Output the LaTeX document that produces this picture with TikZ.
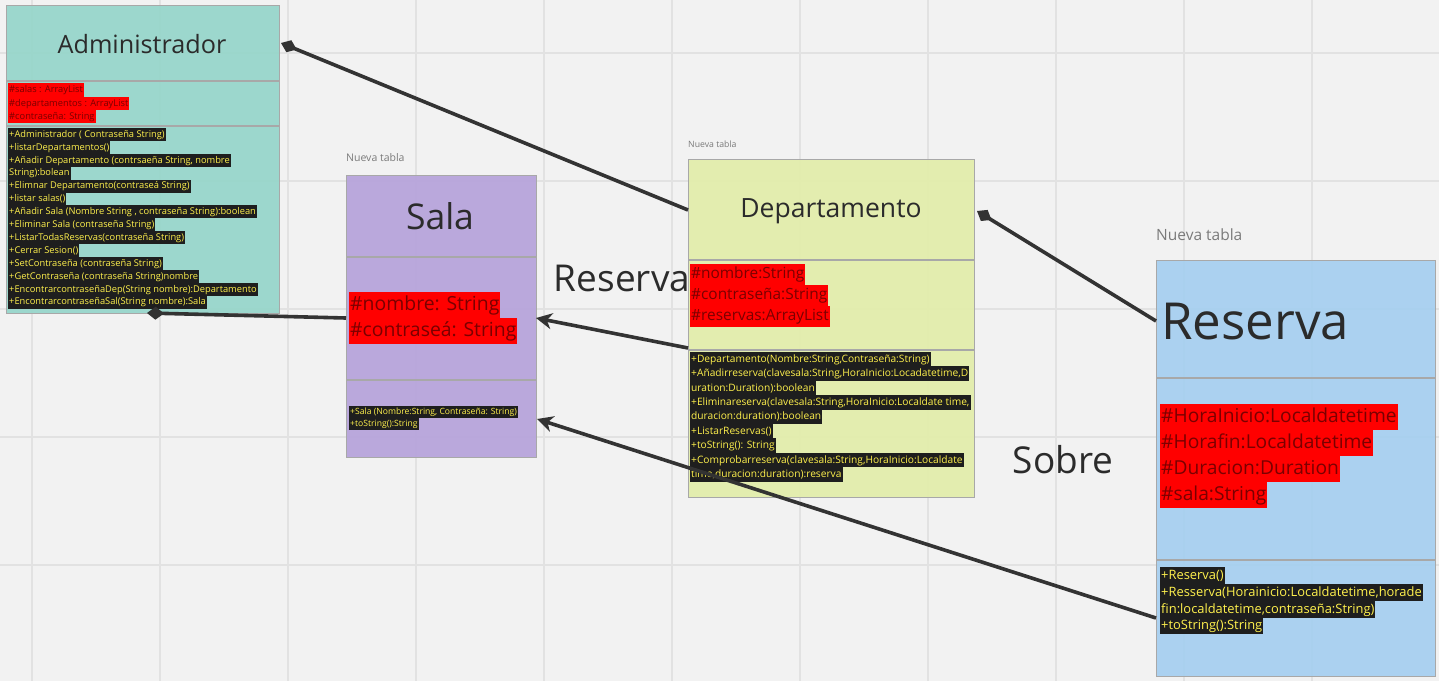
\documentclass[tikz,border=0pt]{standalone}
\usepackage{fontspec}
\setmainfont{Open Sans}
\usetikzlibrary{arrows.meta,calc}
\definecolor{bgcol}{HTML}{F2F2F2}
\definecolor{gridcol}{HTML}{E2E2E2}
\definecolor{admincol}{HTML}{95D5CA}
\definecolor{salacol}{HTML}{B6A2DB}
\definecolor{deptcol}{HTML}{E2EDAA}
\definecolor{rescol}{HTML}{A5CFF0}
\definecolor{bordcol}{HTML}{A8A8A8}
\definecolor{redband}{HTML}{FF0000}
\definecolor{redtext}{HTML}{7A0000}
\definecolor{blackband}{HTML}{1E1E1E}
\definecolor{yeltext}{HTML}{FFF14D}
\definecolor{conncol}{HTML}{333333}
\definecolor{titlecol}{HTML}{2B2B2B}
\definecolor{notecol}{HTML}{7A7A7A}
\newcommand\fsz[1]{\fontsize{#1}{#1}\selectfont}
\begin{document}
\begin{tikzpicture}[x=1pt,y=-1pt,
  box/.style={draw=bordcol,line width=1.2pt,fill opacity=0.92,anchor=north west,inner sep=0pt},
  div/.style={draw=bordcol,line width=1.2pt},
  title/.style={text=titlecol,inner sep=0pt},
  note/.style={text=notecol,inner sep=0pt,anchor=south west},
  attr/.style={fill=redband,text=redtext,inner xsep=1pt,inner ysep=0pt,anchor=west},
  meth/.style={fill=blackband,text=yeltext,inner xsep=1pt,inner ysep=0pt,anchor=west},
  conn/.style={draw=conncol,line width=3.6pt},
  dia/.style={-{Diamond[length=17pt,width=13pt,fill=conncol]}},
  arr/.style={-{Stealth[length=16pt,width=16pt,inset=5pt]}},
  lbl/.style={text=titlecol,inner sep=0pt}
]
\useasboundingbox (0,0) rectangle (1439,681);
\fill[bgcol] (0,0) rectangle (1439,681);
% grid
\foreach \gx in {32,160,...,1440} \draw[gridcol,line width=1.5pt] (\gx,0) -- (\gx,681);
\foreach \gy in {53,181,...,565} \draw[gridcol,line width=1.5pt] (0,\gy) -- (1439,\gy);

% ---------- Administrador ----------
\node[box,fill=admincol,minimum width=273pt,minimum height=308pt] (admin) at (6,5) {};
\draw[div] (6,81) -- (279,81);
\draw[div] (6,126) -- (279,126);
\node[title,font=\fsz{25.2}] (admint) at (142,44) {Administrador};
\begin{scope}[every node/.append style={font=\fsz{9.3}}]
\node[attr,text height=9.4pt,text depth=3.8pt] (aa1) at (8,90) {\#salas : ArrayList};
\node[attr,text height=9.4pt,text depth=3.8pt] (aa2) at (8,103.3) {\#departamentos : ArrayList};
\node[attr,text height=9.4pt,text depth=3.8pt] (aa3) at (8,116.5) {\#contraseña: String};
\tikzset{am/.style={meth,text height=9.2pt,text depth=3.7pt}}
\node[am] (am1) at (8,134.5) {+Administrador ( Contraseña String)};
\node[am] (am2) at (8,147.4) {+listarDepartamentos()};
\node[am] (am3) at (8,160.3) {+Añadir Departamento (contrsaeña String, nombre };
\node[am] (am4) at (8,173.2) {String):bolean};
\node[am] (am5) at (8,186.1) {+Elimnar Departamento(contraseá String)};
\node[am] (am6) at (8,199.0) {+listar salas()};
\node[am] (am7) at (8,211.9) {+Añadir Sala (Nombre String , contraseña String):boolean};
\node[am] (am8) at (8,224.8) {+Eliminar Sala (contraseña String)};
\node[am] (am9) at (8,237.7) {+ListarTodasReservas(contraseña String)};
\node[am] (am10) at (8,250.6) {+Cerrar Sesion()};
\node[am] (am11) at (8,263.5) {+SetContraseña (contraseña String)};
\node[am] (am12) at (8,276.4) {+GetContraseña (contraseña String)nombre};
\node[am] (am13) at (8,289.3) {+EncontrarcontraseñaDep(String nombre):Departamento};
\node[am] (am14) at (8,302.2) {+EncontrarcontraseñaSal(String nombre):Sala};
\end{scope}

% ---------- Sala ----------
\node[note,font=\fsz{10.5}] (salan) at (346,162) {Nueva tabla};
\node[box,fill=salacol,minimum width=190pt,minimum height=282pt] (sala) at (346,175) {};
\draw[div] (346,257) -- (536,257);
\draw[div] (346,380) -- (536,380);
\node[title,font=\fsz{35.5}] (salat) at (440,216) {Sala};
\node[attr,font=\fsz{19.4},text height=18.8pt,text depth=7.2pt] (sa1) at (349,305) {\#nombre: String};
\node[attr,font=\fsz{19.4},text height=18.8pt,text depth=7.2pt] (sa2) at (349,331) {\#contraseá: String};
\node[meth,font=\fsz{8.6},text height=8.6pt,text depth=3.4pt] (sm1) at (349,412) {+Sala (Nombre:String, Contraseña: String)};
\node[meth,font=\fsz{8.6},text height=8.6pt,text depth=3.4pt] (sm2) at (349,424) {+toString():String};

% ---------- Departamento ----------
\node[note,font=\fsz{8.7}] (deptn) at (688,148) {Nueva tabla};
\node[box,fill=deptcol,minimum width=286pt,minimum height=338pt] (dept) at (688,159) {};
\draw[div] (688,260) -- (974,260);
\draw[div] (688,350) -- (974,350);
\node[title,font=\fsz{26.5}] (deptt) at (831,211) {Departamento};
\begin{scope}[every node/.append style={font=\fsz{15.4}}]
\node[attr,text height=15.1pt,text depth=5.9pt] (da1) at (690,274) {\#nombre:String};
\node[attr,text height=15.1pt,text depth=5.9pt] (da2) at (690,295) {\#contraseña:String};
\node[attr,text height=15.1pt,text depth=5.9pt] (da3) at (690,316) {\#reservas:ArrayList};
\end{scope}
\begin{scope}[every node/.append style={font=\fsz{10.2}}]
\tikzset{dm/.style={meth,text height=10.3pt,text depth=4.1pt}}
\node[dm] (dm1) at (690,359.2) {+Departamento(Nombre:String,Contraseña:String)};
\node[dm] (dm2) at (690,373.6) {+Añadirreserva(clavesala:String,HoraInicio:Locadatetime,D};
\node[dm] (dm3) at (690,388.0) {uration:Duration):boolean};
\node[dm] (dm4) at (690,402.4) {+Eliminareserva(clavesala:String,HoraInicio:Localdate time,};
\node[dm] (dm5) at (690,416.8) {duracion:duration):boolean};
\node[dm] (dm6) at (690,431.2) {+ListarReservas()};
\node[dm] (dm7) at (690,445.6) {+toString(): String};
\node[dm] (dm8) at (690,460.0) {+Comprobarreserva(clavesala:String,HoraInicio:Localdate};
\node[dm] (dm9) at (690,474.4) {time,duracion:duration):reserva};
\end{scope}

% ---------- Reserva ----------
\node[note,font=\fsz{15.5}] (resn) at (1156,241) {Nueva tabla};
\node[box,fill=rescol,minimum width=279pt,minimum height=416pt] (res) at (1156,260) {};
\draw[div] (1156,378) -- (1435,378);
\draw[div] (1156,560) -- (1435,560);
\node[title,font=\fsz{51},anchor=west] (rest) at (1161,322) {Reserva};
\begin{scope}[every node/.append style={font=\fsz{19.2}}]
\node[attr,text height=18.8pt,text depth=7.2pt] (ra1) at (1160,417) {\#HoraInicio:Localdatetime};
\node[attr,text height=18.8pt,text depth=7.2pt] (ra2) at (1160,443) {\#Horafin:Localdatetime};
\node[attr,text height=18.8pt,text depth=7.2pt] (ra3) at (1160,469) {\#Duracion:Duration};
\node[attr,text height=18.8pt,text depth=7.2pt] (ra4) at (1160,495) {\#sala:String};
\end{scope}
\begin{scope}[every node/.append style={font=\fsz{12.9}}]
\tikzset{rm/.style={meth,text height=12.3pt,text depth=4.5pt}}
\node[rm] (rm1) at (1160,575.5) {+Reserva()};
\node[rm] (rm2) at (1160,592.3) {+Resserva(Horainicio:Localdatetime,horade};
\node[rm] (rm3) at (1160,609.1) {fin:localdatetime,contraseña:String)};
\node[rm] (rm4) at (1160,625.9) {+toString():String};
\end{scope}

% ---------- free labels ----------
\node[lbl,font=\fsz{37}] (lblres) at (622,278) {Reserva};
\node[lbl,font=\fsz{37}] (lblsob) at (1063,460) {Sobre};

% ---------- connectors ----------
\coordinate (c1s) at (688,210);
\coordinate (c1e) at (281,43);
\coordinate (c2s) at (1156,321);
\coordinate (c2e) at (977,211);
\coordinate (c3s) at (346,318);
\coordinate (c3e) at (147,313);
\coordinate (c4s) at (688,348);
\coordinate (c4e) at (536,318);
\coordinate (c5s) at (1156,618);
\coordinate (c5e) at (537,419);
\draw[conn,dia] (c1s) -- (c1e);
\draw[conn,dia] (c2s) -- (c2e);
\draw[conn,dia] (c3s) -- (c3e);
\draw[conn,arr] (c4s) -- (c4e);
\draw[conn,arr] (c5s) -- (c5e);
\end{tikzpicture}
\end{document}
